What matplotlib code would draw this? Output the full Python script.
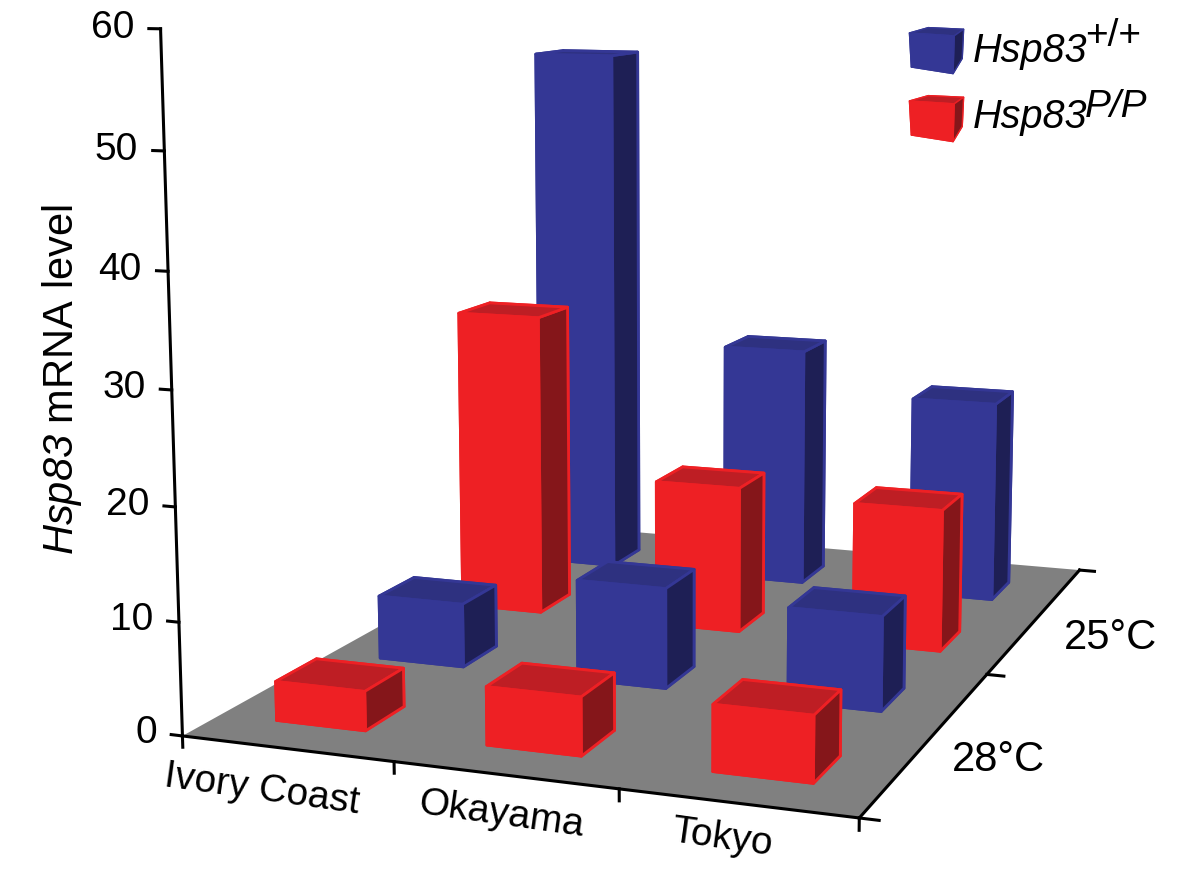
import matplotlib
matplotlib.use("Agg")
import matplotlib.pyplot as plt
import numpy as np
from mpl_toolkits.mplot3d import proj3d

plt.rcParams["font.family"] = ["Liberation Sans", "DejaVu Sans"]
plt.rcParams["mathtext.fontset"] = "custom"
plt.rcParams["mathtext.rm"] = "Liberation Sans:italic"
plt.rcParams["mathtext.it"] = "Liberation Sans:italic"

strains = ["Ivory Coast", "Okayama", "Tokyo"]
temps = ["25°C", "28°C"]
wt_25 = [54.6, 24.5, 20.3]
pp_25 = [29.9, 14.3, 13.7]
wt_28 = [6.0, 9.3, 8.6]
pp_28 = [3.5, 5.1, 5.7]
z_ticks = [0, 10, 20, 30, 40, 50, 60]

BLUE = ("#343795", "#2e3180", "#1e1f55")
RED = ("#ee2024", "#be1e24", "#85161a")
AXIS_LW = 2.2
W, H = 1200, 883
WIDTH, DEPTH = 3.0, 4.0

# camera fitted against the corners of the floor in the reference
ELEV, AZIM, FOCAL = 9.114, -69.846, 0.4
BOX = (1, 1.388, 0.999)
S, L, B = 1225.3, 51.9, -81.6


def draw_bar(ax, x, y, h, dx, dy, cols, zorder, lw=2.0):
    front, top, side = cols
    # bar3d face order: bottom, top, front, back, left, right
    faces = [side, top, front, side, side, side]
    n = len(ax.collections)
    ax.bar3d(x, y, 0, dx, dy, h, color=faces, edgecolor=front, linewidth=lw, shade=False)
    for c in ax.collections[n:]:
        c.set_zorder(zorder)


fig = plt.figure(figsize=(W / 100, H / 100), dpi=100)
ax = fig.add_axes([L / W, B / H, S / W, S / H], projection="3d")
ax.patch.set_alpha(0)
ax.computed_zorder = False
ax.set_proj_type("persp", focal_length=FOCAL)
ax.view_init(elev=ELEV, azim=AZIM)
ax.set_box_aspect(BOX)
ax.set_xlim(0, WIDTH)
ax.set_ylim(0, DEPTH)
ax.set_zlim(0, 60)
ax.set_axis_off()

ax.plot_surface(np.array([[0, WIDTH], [0, WIDTH]]), np.array([[0, 0], [DEPTH, DEPTH]]),
                np.zeros((2, 2)), color="#808080", shade=False, zorder=1)

ax.plot([0, 0], [0, 0], [0, 60], color="k", lw=AXIS_LW, zorder=2)
ax.plot([0, WIDTH], [0, 0], [0, 0], color="k", lw=AXIS_LW, zorder=2)
ax.plot([WIDTH, WIDTH], [0, DEPTH], [0, 0], color="k", lw=AXIS_LW, zorder=2)
M = ax.get_proj()
for t in z_ticks:
    ax.plot([-0.055, 0], [0, 0], [t, t], color="k", lw=AXIS_LW, zorder=2)
    xv, yv, _ = proj3d.proj_transform(-0.125, 0, t, M)
    ax.text2D(xv, yv, str(t), transform=ax.transData, fontsize=28, ha="right", va="center")
for i in range(len(strains) + 1):
    ax.plot([i, i], [0, 0], [0, -1.0], color="k", lw=AXIS_LW, zorder=2)
for i in range(len(temps) + 1):
    ax.plot([WIDTH, WIDTH + 0.08], [i * 2, i * 2], [0, 0], color="k", lw=AXIS_LW, zorder=2)

order = 10
rows = [(wt_25, BLUE, 3.27, [0.20, 0.26, 0.275]),
        (pp_25, RED, 2.29, [0.21, 0.26, 0.27]),
        (wt_28, BLUE, 1.31, [0.255, 0.26, 0.27]),
        (pp_28, RED, 0.32, [0.27, 0.27, 0.28])]
for vals, cols, y, offs in rows:
    for i in range(len(strains)):
        draw_bar(ax, i + offs[i], y, vals[i], 0.43, 0.36, cols, order)
        order += 1

for s, px, py in zip(strains, [262, 501, 722], [790, 815, 838]):
    fig.text(px / W, 1 - py / H, s, fontsize=28, rotation=-8, ha="center", va="center",
             rotation_mode="anchor")
for s, px, py in zip(temps, [1110, 998], [638, 760]):
    fig.text(px / W, 1 - py / H, s, fontsize=30, ha="center", va="center")

fig.text(62 / W, 1 - 380 / H, r"$\mathrm{Hsp83}$ mRNA level", fontsize=30, rotation=90,
         ha="center", va="center")

# legend: one small box per genotype
for cols, cy, sup, base_y, sup_y, sup_style in [(BLUE, 48, "+/+", 62, 46, "normal"),
                                                (RED, 116, "P/P", 128, 117, "italic")]:
    lax = fig.add_axes([(938 - 32) / W, 1 - (cy + 32) / H, 64 / W, 64 / H], projection="3d")
    lax.patch.set_alpha(0)
    lax.set_proj_type("persp", focal_length=FOCAL)
    lax.view_init(elev=ELEV + 6, azim=AZIM)
    lax.set_box_aspect((1, 1, 0.8))
    lax.set_xlim(0, 1)
    lax.set_ylim(0, 1)
    lax.set_zlim(0, 1)
    lax.set_axis_off()
    draw_bar(lax, 0, 0, 1, 1, 1, cols, 3, lw=1.0)
    fig.text(973 / W, 1 - base_y / H, "Hsp83", fontsize=28.5, style="italic", va="baseline")
    fig.text(1085 / W, 1 - sup_y / H, sup, fontsize=28, style=sup_style, va="baseline")

fig.savefig("out.png", dpi=100)
